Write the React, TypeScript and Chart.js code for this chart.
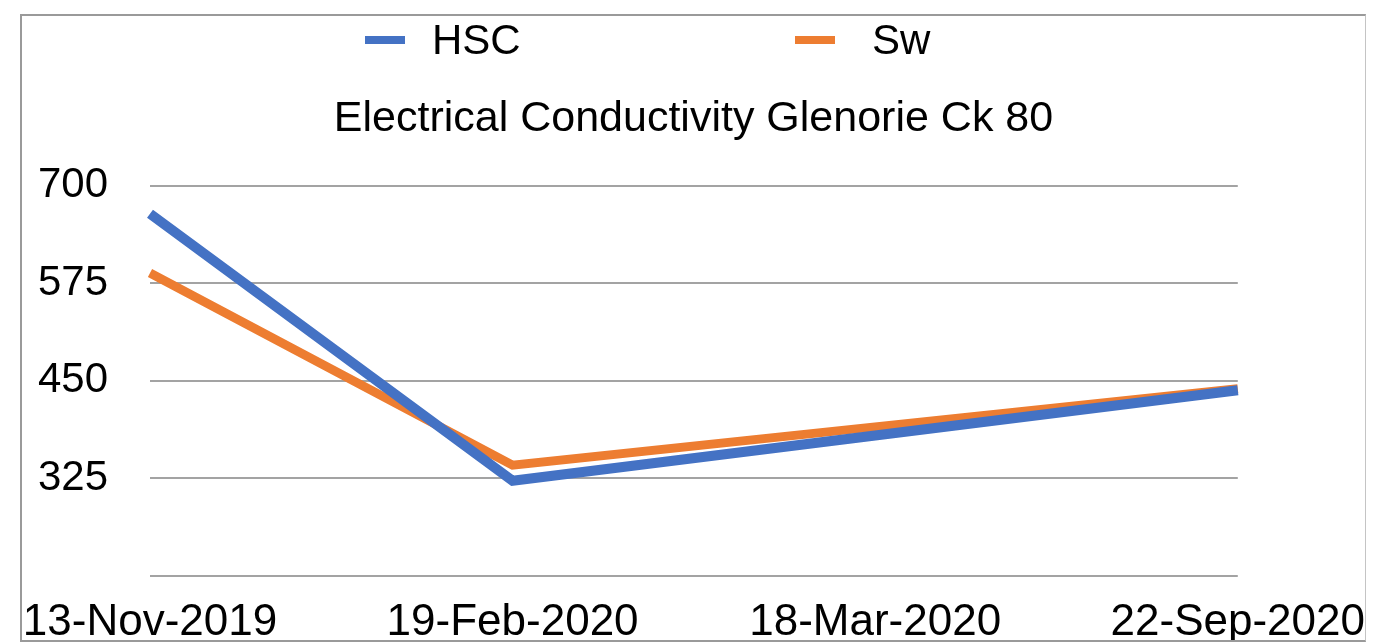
import React, { useEffect, useRef } from "react";
import { Chart, registerables } from "chart.js";

Chart.register(...registerables);

const categories = ["13-Nov-2019", "19-Feb-2020", "18-Mar-2020", "22-Sep-2020"];
const hscValues = [664, 322, 380, 438];
const swValues = [588, 342, 391, 440];
const seriesNames = ["HSC", "Sw"];
const yTicks = [200, 325, 450, 575, 700];
const titleText = "Electrical Conductivity Glenorie Ck 80";

const BLUE = "#4472C4";
const ORANGE = "#ED7D31";
const FONT = "'Liberation Sans', Arial, Helvetica, sans-serif";
const CANVAS_W = 1343;
const CANVAS_H = 624;

export default function App() {
  const canvasRef = useRef<HTMLCanvasElement | null>(null);

  useEffect(() => {
    const canvas = canvasRef.current;
    if (!canvas) return;
    const chart = new Chart(canvas, {
      type: "line",
      data: {
        labels: categories,
        datasets: [
          {
            label: seriesNames[0],
            data: hscValues,
            borderColor: BLUE,
            backgroundColor: BLUE,
            borderWidth: 10,
            pointRadius: 0,
            tension: 0,
            borderJoinStyle: "miter",
            borderCapStyle: "butt",
          },
          {
            label: seriesNames[1],
            data: swValues,
            borderColor: ORANGE,
            backgroundColor: ORANGE,
            borderWidth: 9,
            pointRadius: 0,
            tension: 0,
            borderJoinStyle: "miter",
            borderCapStyle: "butt",
          },
        ],
      },
      options: {
        animation: false,
        responsive: false,
        devicePixelRatio: 1,
        layout: { padding: { left: 16, top: 0, right: 16, bottom: 0 } },
        plugins: {
          legend: { display: false },
          tooltip: { enabled: false },
          title: {
            display: true,
            text: titleText,
            color: "#000",
            font: { family: FONT, size: 43, weight: "normal" },
            padding: { top: 77, bottom: 41 },
          },
        },
        scales: {
          x: {
            offset: false,
            grid: { display: false, drawTicks: false },
            border: { display: false },
            ticks: {
              color: "#000",
              font: { family: FONT, size: 44, lineHeight: 2.11 },
              padding: 0,
              maxRotation: 0,
              autoSkip: false,
            },
            afterFit: (scale: any) => {
              scale.height = 64;
            },
          },
          y: {
            min: yTicks[0],
            max: yTicks[yTicks.length - 1],
            afterBuildTicks: (scale: any) => {
              scale.ticks = yTicks.map((v) => ({ value: v }));
            },
            grid: { color: "#a3a3a3", lineWidth: 2, drawTicks: false },
            border: { display: false },
            ticks: {
              color: "#000",
              font: { family: FONT, size: 42 },
              padding: 0,
              crossAlign: "far",
              callback: (v: any) => (Number(v) === yTicks[0] ? "" : String(v)),
            },
            afterFit: (scale: any) => {
              scale.width = 112;
            },
          },
        },
      },
    });
    return () => chart.destroy();
  }, []);

  const legendText: React.CSSProperties = {
    position: "absolute",
    top: 19,
    fontFamily: FONT,
    fontSize: 42,
    lineHeight: "42px",
    color: "#000",
    whiteSpace: "nowrap",
  };

  return (
    <div
      style={{
        position: "fixed",
        left: 0,
        top: 0,
        width: 1400,
        height: 643,
        background: "#fff",
        overflow: "hidden",
      }}
    >
      <div
        style={{
          position: "absolute",
          left: 20,
          top: 14,
          width: 1346,
          height: 628,
          boxSizing: "border-box",
          borderTop: "2px solid #9a9a9a",
          borderLeft: "2px solid #9a9a9a",
          borderBottom: "2px solid #9a9a9a",
          borderRight: "1px solid #c4c4c4",
        }}
      >
        <canvas
          ref={canvasRef}
          width={CANVAS_W}
          height={CANVAS_H}
          style={{ position: "absolute", left: 0, top: 0, width: CANVAS_W, height: CANVAS_H, display: "block" }}
        />
      </div>
      <div style={{ position: "absolute", left: 365, top: 36, width: 40, height: 8, background: BLUE }} />
      <div style={{ ...legendText, left: 432 }}>{seriesNames[0]}</div>
      <div style={{ position: "absolute", left: 795, top: 36, width: 40, height: 8, background: ORANGE }} />
      <div style={{ ...legendText, left: 872 }}>{seriesNames[1]}</div>
    </div>
  );
}
